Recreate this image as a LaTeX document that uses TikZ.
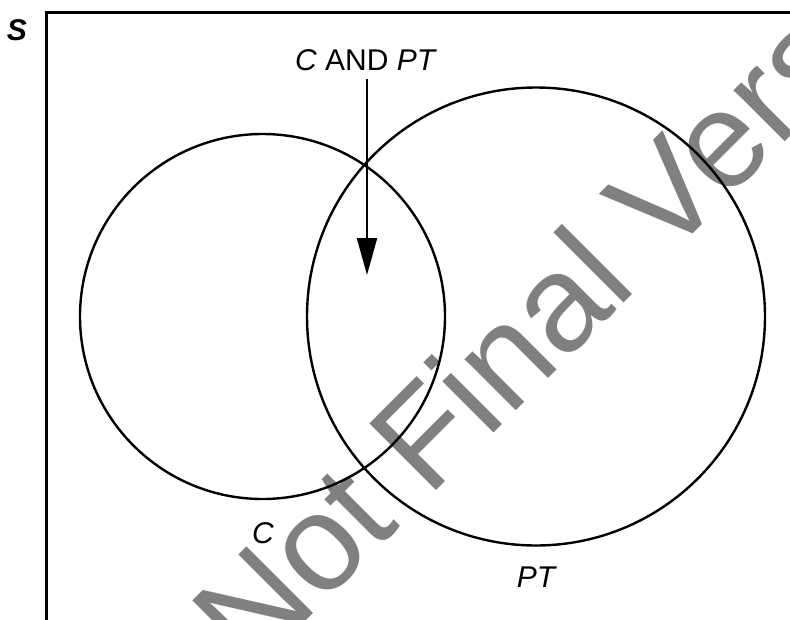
\documentclass[tikz,border=0pt]{standalone}
\usepackage{fontspec}
\setmainfont{Liberation Sans}
\usetikzlibrary{arrows.meta}
\definecolor{wmgray}{RGB}{128,128,128}
\begin{document}
\begin{tikzpicture}[x=1pt,y=1pt,
  venn/.style={circle,draw,line width=2.4pt,inner sep=0pt,outer sep=0pt},
  lbl/.style={font=\fontsize{30}{36}\selectfont,inner sep=0pt},
  wm/.style={font=\fontsize{137}{160}\selectfont,text=wmgray,inner sep=0pt,rotate=45,anchor=base west},
  frame/.style={line width=3pt},
  pointer/.style={line width=2.2pt,-{Triangle[width=20pt,length=37pt]}}]
\useasboundingbox (0,-619) rectangle (790,0);
\clip (0,-619) rectangle (790,0);
% watermark
\node[wm] (wm) at (251,-676) {Not Final Version};
% sample space frame
\draw[frame] (46.5,-630) -- (46.5,-12.7) -- (800,-12.7);
\node[lbl,anchor=base] (S) at (17,-40) {\bfseries\itshape S};
% circles
\node[venn,minimum size=365pt] (C) at (262.5,-316.5) {};
\node[venn,minimum size=458pt] (PT) at (536,-316.5) {};
% labels
\node[lbl,anchor=base] (CandPT) at (366,-70) {\textit{C} AND \textit{PT}};
\node[lbl,anchor=base] (Clab) at (263,-543) {\textit{C}};
\node[lbl,anchor=base] (PTlab) at (537,-587) {\textit{PT}};
% arrow
\coordinate (tail) at (367,-79);
\coordinate (tip) at (367,-275);
\draw[pointer] (tail) -- (tip);
\end{tikzpicture}
\end{document}
